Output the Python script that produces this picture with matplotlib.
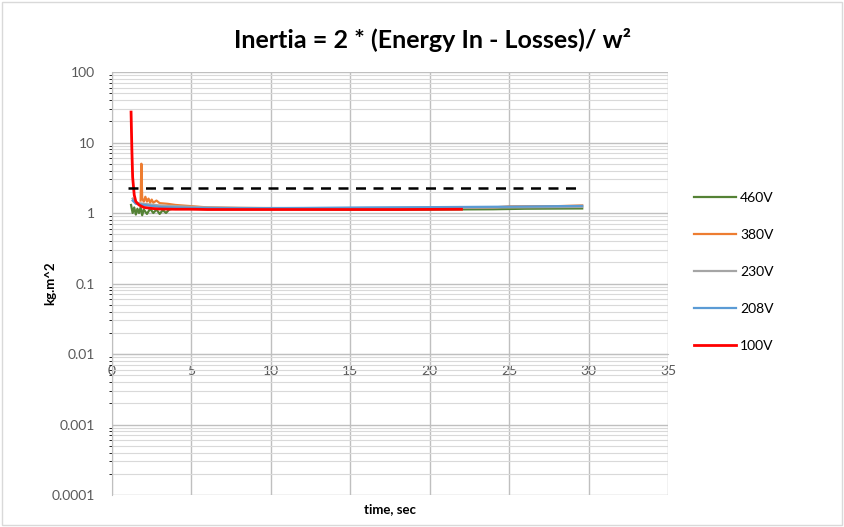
import matplotlib
matplotlib.use("Agg")
import matplotlib.pyplot as plt
from matplotlib.patches import Rectangle
from matplotlib.ticker import FixedLocator, FuncFormatter, NullFormatter

plt.rcParams["font.family"] = ["Lato", "DejaVu Sans"]

# series (time in s, inertia in kg.m^2)
t_460 = [1.2, 1.3, 1.4, 1.5, 1.6, 1.7, 1.8, 1.9, 2.0, 2.2, 2.4, 2.6, 2.8, 3.0, 3.2, 3.4, 3.6,
         4.0, 5.0, 6.0, 8.0, 12.0, 16.0, 20.0, 24.0, 26.0, 29.6]
v_460 = [1.3, 1.0, 1.2, 0.95, 1.15, 1.0, 1.2, 0.93, 1.12, 0.97, 1.15, 1.0, 1.12, 0.97, 1.1, 1.0, 1.12,
         1.18, 1.18, 1.17, 1.15, 1.14, 1.12, 1.12, 1.13, 1.15, 1.16]

t_380 = [1.8, 1.85, 1.9, 2.0, 2.1, 2.2, 2.3, 2.4, 2.5, 2.6, 2.8, 3.0, 3.5, 4.0, 5.0, 6.0,
         8.0, 12.0, 16.0, 20.0, 24.0, 25.0, 28.0, 29.6]
v_380 = [1.5, 5.0, 1.6, 1.45, 1.7, 1.45, 1.6, 1.4, 1.55, 1.4, 1.5, 1.38, 1.35, 1.3, 1.25, 1.2,
         1.18, 1.17, 1.17, 1.18, 1.2, 1.24, 1.25, 1.28]

t_230 = [1.3, 1.5, 2.0, 3.0, 4.0, 6.0, 10.0, 15.0, 20.0, 25.0, 29.6]
v_230 = [1.6, 1.4, 1.35, 1.28, 1.25, 1.2, 1.17, 1.17, 1.18, 1.2, 1.22]

t_208 = [1.3, 1.5, 2.0, 3.0, 5.0, 8.0, 12.0, 16.0, 20.0, 25.0, 29.6]
v_208 = [1.5, 1.35, 1.3, 1.22, 1.18, 1.17, 1.18, 1.2, 1.21, 1.23, 1.26]

t_100 = [1.2, 1.25, 1.3, 1.4, 1.5, 1.7, 2.0, 2.5, 3.0, 4.0, 5.0, 6.0, 8.0, 10.0, 14.0, 18.0, 22.0]
v_100 = [27.0, 8.0, 3.2, 1.8, 1.45, 1.3, 1.2, 1.16, 1.14, 1.13, 1.13, 1.12, 1.12, 1.12, 1.12, 1.12, 1.13]

ref_t = [1.0, 29.6]
ref_v = [2.25, 2.25]

series = [
    ("460V", t_460, v_460, "#548235"),
    ("380V", t_380, v_380, "#ED7D31"),
    ("230V", t_230, v_230, "#A5A5A5"),
    ("208V", t_208, v_208, "#5B9BD5"),
    ("100V", t_100, v_100, "#FF0000"),
]

fig = plt.figure(figsize=(8.44, 5.27), dpi=100)
ax = fig.add_axes([112 / 844, 1 - 495 / 527, (668 - 112) / 844, (495 - 72) / 527])

for name, t, v, c in series:
    ax.plot(t, v, color=c, lw=2.0 if name == "100V" else 1.6, label=name, zorder=3)
ax.plot(ref_t, ref_v, color="black", lw=1.8, ls=(0, (4, 3)), zorder=4)

ax.set_yscale("log")
ax.set_ylim(1e-4, 100)
ax.set_xlim(0, 35)
ax.xaxis.set_major_locator(FixedLocator(range(0, 36, 5)))
ax.yaxis.set_major_locator(FixedLocator([1e-4, 1e-3, 1e-2, 1e-1, 1, 10, 100]))
ax.yaxis.set_minor_locator(FixedLocator([m * 10.0 ** e for e in range(-4, 2) for m in range(2, 10)]))
ax.yaxis.set_minor_formatter(NullFormatter())
ax.yaxis.set_major_formatter(FuncFormatter(lambda y, _: f"{y:g}" if y >= 1 else f"{y:.{len(str(int(round(1 / y)))) - 1}f}"))

ax.grid(True, which="major", color="#BFBFBF", lw=1.0, zorder=0)
ax.grid(True, which="minor", axis="y", color="#D9D9D9", lw=0.8, zorder=0)

for s in ["top", "right"]:
    ax.spines[s].set_visible(False)
ax.spines["bottom"].set_position(("data", 0.01))
ax.spines["bottom"].set_color("#BFBFBF")
ax.spines["left"].set_color("#BFBFBF")
ax.tick_params(length=0, labelsize=10, labelcolor="#595959")
ax.tick_params(axis="x", pad=8)
ax.tick_params(axis="y", pad=12)

ax.set_xlabel("time, sec", fontsize=9.5, fontweight="bold", labelpad=0)
ax.xaxis.set_label_coords(0.5, -0.02)
ax.set_ylabel("kg.m^2", fontsize=9.5, fontweight="bold")
ax.yaxis.set_label_coords(-0.1, 0.5)

fig.text(433 / 844, 1 - 40 / 527, "Inertia = 2 * (Energy In - Losses)/ w²", ha="center", va="center",
         fontsize=18, fontweight="bold")

ax.legend(loc="center left", bbox_to_anchor=(1.025, 0.527), frameon=False, fontsize=10,
          handlelength=3.0, labelspacing=1.8, handletextpad=0.3)

fig.add_artist(Rectangle((0.002, 0.003), 0.996, 0.994, transform=fig.transFigure,
                         fill=False, edgecolor="#D9D9D9", lw=1))

fig.savefig("out.png", dpi=100)
